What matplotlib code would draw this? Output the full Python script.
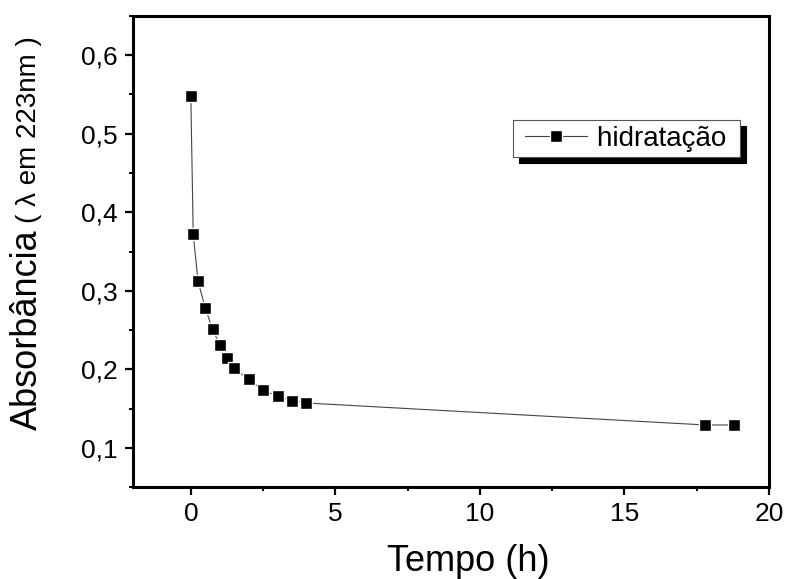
import numpy as np
import matplotlib
matplotlib.use('Agg')
import matplotlib.pyplot as plt
from matplotlib.ticker import MultipleLocator, FixedLocator
from matplotlib.legend_handler import HandlerLine2D

plt.rcParams['font.family'] = ['Liberation Sans', 'DejaVu Sans']

# data
tempo = [0, 0.083, 0.25, 0.5, 0.75, 1.0, 1.25, 1.5, 2.0, 2.5, 3.0, 3.5, 4.0, 17.8, 18.8]
absorbancia = [0.548, 0.372, 0.312, 0.278, 0.251, 0.231, 0.214, 0.201, 0.187,
               0.173, 0.166, 0.160, 0.157, 0.129, 0.129]
xticks = [0, 5, 10, 15, 20]
yticks = [0.1, 0.2, 0.3, 0.4, 0.5, 0.6]
ytick_labels = ['0,1', '0,2', '0,3', '0,4', '0,5', '0,6']

fig = plt.figure(figsize=(7.86, 5.79), dpi=100)
ax = fig.add_axes([133/786, 1-487/579, (769-133)/786, (487-16)/579])

line, = ax.plot(tempo, absorbancia, color='#444444', lw=0.8, marker='s', markersize=8,
                markerfacecolor='k', markeredgecolor='white', markeredgewidth=1.0,
                label='hidratação ')

ax.set_xlim(-2, 20)
ax.set_ylim(0.05, 0.65)
ax.set_xticks(xticks)
ax.set_yticks(yticks)
ax.set_yticklabels(ytick_labels)
ax.xaxis.set_minor_locator(FixedLocator([2.5, 7.5, 12.5, 17.5]))
ax.yaxis.set_minor_locator(MultipleLocator(0.05))

for s in ax.spines.values():
    s.set_linewidth(2.2)
ax.tick_params(which='major', direction='out', length=5.8, width=1.6, labelsize=19, pad=5)
ax.tick_params(which='minor', direction='out', length=3, width=1.4)
ax.tick_params(top=False, right=False, which='both')

ax.set_xlabel('Tempo (h)', fontsize=26)
ax.xaxis.set_label_coords(0.527, -0.122)

# y label in two sizes
lab = fig.text(0.035, 0.43, 'Absorbância', rotation=90, fontsize=26,
               ha='center', va='center')
ax.annotate('( λ em 223nm )', xy=(0.5, 1.0), xycoords=lab, xytext=(1, 5),
            textcoords='offset points', rotation=90, fontsize=20,
            ha='center', va='bottom')

leg = ax.legend(loc='upper right', bbox_to_anchor=((740-133)/636, (487-120)/471),
                borderaxespad=0, fontsize=20, numpoints=1, handlelength=2.44,
                handletextpad=0.39, borderpad=0.2, fancybox=False,
                handler_map={line: HandlerLine2D(xpad=0.23)},
                shadow={'ox': 4.3, 'oy': -4.3, 'color': 'k', 'alpha': 1})
leg.get_frame().set_edgecolor('#555555')
leg.get_frame().set_linewidth(0.8)

fig.savefig('out.png', dpi=100)
